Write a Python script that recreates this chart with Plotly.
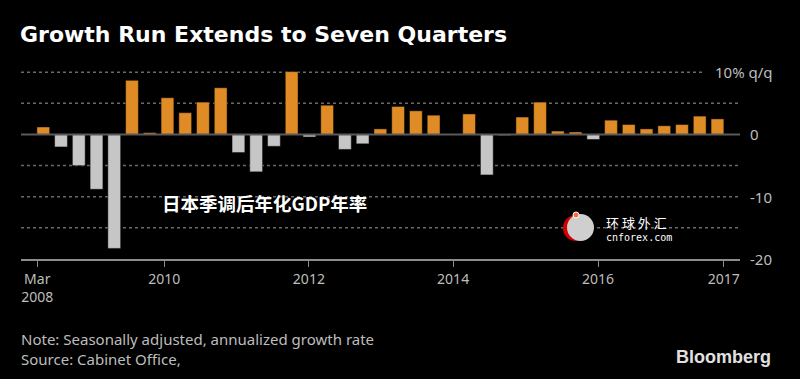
import plotly.graph_objects as go

# ---- data (annualized q/q GDP growth, Q1 2008 .. Q3 2017) ----
quarters = [f"{y}Q{q}" for y in range(2008, 2018) for q in range(1, 5)][:39]
growth = [1.2, -2.0, -5.0, -8.8, -18.3, 8.7, 0.3, 5.9, 3.5, 5.2,
          7.5, -2.9, -6.0, -1.9, 10.1, -0.4, 4.7, -2.4, -1.5, 0.9,
          4.5, 3.8, 3.1, 0.0, 3.3, -6.5, -0.15, 2.8, 5.2, 0.55,
          0.4, -0.8, 2.3, 1.6, 0.9, 1.4, 1.6, 2.95, 2.5]
tick_labels = ["Mar<br>2008", "2010", "2012", "2014", "2016", "2017"]
y_labels = ["10% q/q", "0", "-10", "-20"]
y_label_vals = [10, 0, -10, -20]

# ---- layout constants ----
W, H = 800, 379
ML, MR, MT, MB = 21, 60, 66, 120
PW, PH = W - ML - MR, H - MT - MB
tick_pos = [-0.34, 6.82, 14.97, 23.1, 31.27, 38.35]
ORANGE = "#E08C26"
GREY = "#C6C6C6"
TXT = "#BDBDBD"

def px_x(x):
    return (x - ML) / PW

def px_y(y):
    return (H - MB - y) / PH

xs = list(range(len(growth)))
colors = [ORANGE if v > 0 else GREY for v in growth]

fig = go.Figure()
fig.add_trace(go.Bar(
    x=xs, y=growth, marker=dict(color=colors, line=dict(color="rgba(0,0,0,0.45)", width=1)),
    width=0.72, hovertext=quarters, showlegend=False))

shapes = []
for g in [10, 5, -5, -10, -15]:
    shapes.append(dict(type="line", xref="paper", yref="y", x0=0,
                       x1=px_x(705) if g == 10 else 1, y0=g, y1=g,
                       line=dict(color="#6a6a6a", width=1.5, dash="dot"), layer="below"))
shapes.append(dict(type="line", xref="paper", yref="y", x0=0, x1=1, y0=0, y1=0,
                   line=dict(color="#5a5a5a", width=2), layer="above"))

# watermark logo
shapes += [
    dict(type="circle", xref="paper", yref="paper", x0=px_x(563), x1=px_x(589),
         y0=px_y(241), y1=px_y(215), fillcolor="#d40000", line=dict(width=0)),
    dict(type="circle", xref="paper", yref="paper", x0=px_x(567), x1=px_x(594),
         y0=px_y(241), y1=px_y(214), fillcolor="#cfcfcf", line=dict(width=0)),
    dict(type="circle", xref="paper", yref="paper", x0=px_x(573), x1=px_x(579),
         y0=px_y(218), y1=px_y(212), fillcolor="#ff6a3a", line=dict(color="white", width=1)),
]

ann = []
for lab, v in zip(y_labels, y_label_vals):
    if v == 10:
        ann.append(dict(text=lab, xref="paper", yref="y", x=1, y=v, xanchor="right",
                        xshift=35, showarrow=False, font=dict(size=15, color=TXT)))
    else:
        ann.append(dict(text=lab, xref="paper", yref="y", x=1, y=v, xanchor="left",
                        xshift=8, showarrow=False, font=dict(size=15, color=TXT)))

ann += [
    dict(text="<b>日本季调后年化GDP年率</b>", xref="paper", yref="paper", x=px_x(160), y=px_y(203),
         xanchor="left", yanchor="middle", showarrow=False,
         font=dict(size=18.5, color="white", family="Noto Sans CJK SC")),
    dict(text="环 球 外 汇", xref="paper", yref="paper", x=px_x(604), y=px_y(222),
         xanchor="left", yanchor="middle", showarrow=False,
         font=dict(size=13, color="white", family="Noto Sans CJK SC")),
    dict(text="cnforex.com", xref="paper", yref="paper", x=px_x(604), y=px_y(237),
         xanchor="left", yanchor="middle", showarrow=False,
         font=dict(size=10, color="white", family="DejaVu Sans Mono")),
    dict(text="Note: Seasonally adjusted, annualized growth rate<br>Source: Cabinet Office,",
         xref="paper", yref="paper", x=px_x(19), y=px_y(327), xanchor="left", yanchor="top",
         align="left", showarrow=False, font=dict(size=15, color=TXT, family="Noto Sans")),
    dict(text="<b>Bloomberg</b>", xref="paper", yref="paper", x=px_x(773), y=px_y(357),
         xanchor="right", yanchor="middle", showarrow=False,
         font=dict(size=18, color="#E0E0E0", family="Liberation Sans")),
]

fig.update_layout(
    width=W, height=H, paper_bgcolor="black", plot_bgcolor="black",
    margin=dict(l=ML, r=MR, t=MT, b=MB),
    title=dict(text="<b>Growth Run Extends to Seven Quarters</b>", xref="container", yref="container",
               x=20 / W, y=1 - 34 / H, xanchor="left", yanchor="middle",
               font=dict(size=22, color="white", family="DejaVu Sans")),
    font=dict(family="Noto Sans", color=TXT, size=14),
    xaxis=dict(range=[-1.256, 39.27], tickvals=tick_pos, ticktext=tick_labels,
               showgrid=False, zeroline=False, showline=True, linecolor="#8c8c8c", linewidth=2,
               ticks="outside", ticklen=6, tickcolor="#8c8c8c", tickwidth=1,
               tickfont=dict(size=14, color=TXT)),
    yaxis=dict(range=[-20, 11], showgrid=False, zeroline=False, showticklabels=False),
    shapes=shapes, annotations=ann, bargap=0.3,
)

fig.write_html("out.html", config={"displayModeBar": False},
               post_script="document.body.style.margin='0';document.body.style.background='black';")
